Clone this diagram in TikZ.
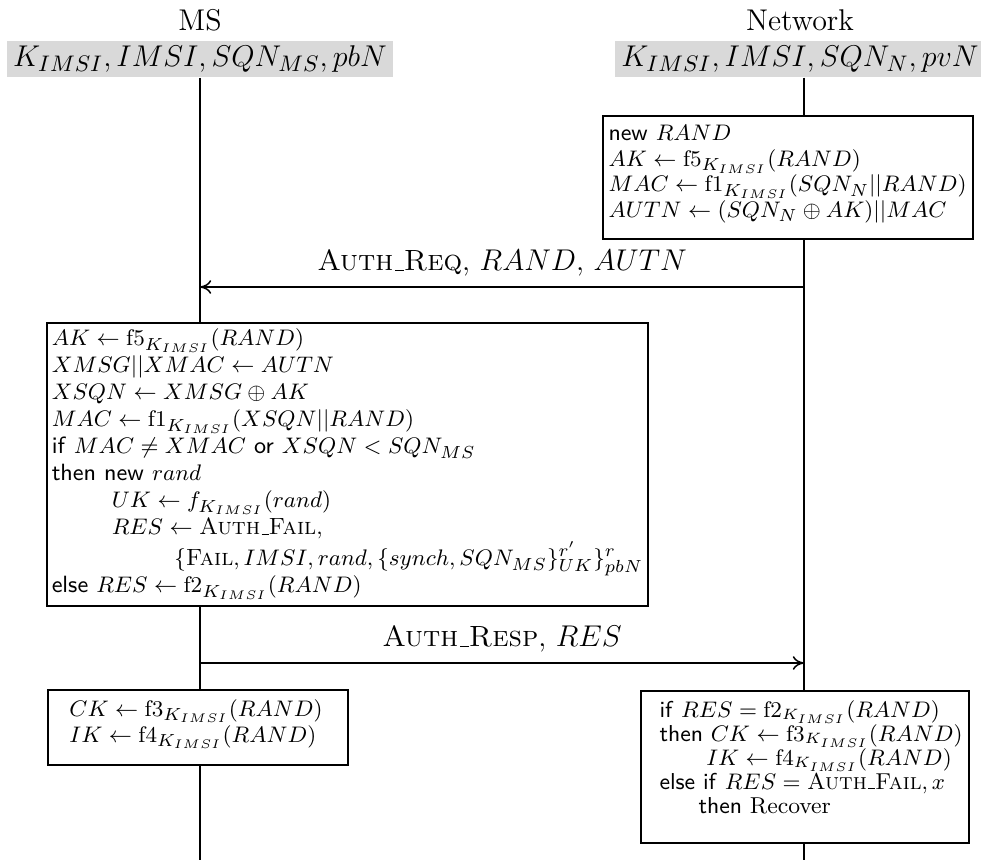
\documentclass[tikz,border=0pt]{standalone}
\usepackage{amsmath}
\usetikzlibrary{arrows.meta}
\newcommand\uscore{\leavevmode\kern.06em\vbox{\hrule width.3em}}
\begin{document}
\begin{tikzpicture}[x=0.4pt,y=-0.4pt,
  lbl/.style={font=\fontsize{12}{14}\selectfont, inner sep=0pt},
  hdr/.style={fill=black!15, font=\fontsize{13}{15}\selectfont, inner xsep=2.5pt, inner ysep=2pt},
  life/.style={line width=0.6pt},
  box/.style={draw, line width=0.6pt, fill=white, inner sep=0pt},
  boxtext/.style={font={\fontsize{9.3}{10.2}\selectfont}, align=left, inner sep=0pt},
  msg/.style={line width=0.6pt, -{To[length=4.5pt,width=5.5pt]}},
  msglbl/.style={font=\fontsize{11.7}{14}\selectfont, above, inner sep=4pt}
]
\useasboundingbox (0,0) rectangle (981,860);
% headers
\node[lbl] (msl) at (200,20) {MS};
\node[lbl] (nwl) at (800,20) {Network};
\node[hdr] (msh) at (200,59) {$K_{IMSI},IMSI,SQN_{MS},pbN$};
\node[hdr] (nwh) at (800,59) {$K_{IMSI},IMSI,SQN_{N},pvN$};
\coordinate (msend) at (200,860);
\coordinate (nwend) at (804,860);
\draw[life] (msh.south) -- (msend);
\draw[life] (nwh.south -| nwend) -- (nwend);
% network box 1
\node[box, anchor=north west, minimum width=148pt, minimum height=49.2pt] (nb1) at (602,115) {};
\node[boxtext, anchor=north west] (nb1t) at (608,125) {%
\textsf{new} $RAND$\\
$AK \leftarrow \mathrm{f5}_{K_{IMSI}}(RAND)$\\
$MAC \leftarrow \mathrm{f1}_{K_{IMSI}}(SQN_N||RAND)$\\
$AUTN \leftarrow (SQN_N \oplus AK)||MAC$};
% message 1
\coordinate (a1s) at (804,287);
\coordinate (a1e) at (200,287);
\draw[msg] (a1s) -- node[msglbl] (a1l) {\textsc{Auth\uscore Req}, $RAND$,\ $AUTN$} (a1e);
% MS box 1
\node[box, boxtext, font={\fontsize{9.4}{10.8}\selectfont}, anchor=north west, inner xsep=2pt, minimum height=113.2pt] (mb1) at (46,322) {%
$AK \leftarrow \mathrm{f5}_{K_{IMSI}}(RAND)$\\
$XMSG||XMAC \leftarrow AUTN$\\
$XSQN \leftarrow XMSG \oplus AK$\\
$MAC \leftarrow \mathrm{f1}_{K_{IMSI}}(XSQN||RAND)$\\
\textsf{if} $MAC \neq XMAC$ \textsf{or} $XSQN < SQN_{MS}$\\
\textsf{then new} $rand$\\
\hspace*{24pt}$UK \leftarrow f_{K_{IMSI}}(rand)$\\
\hspace*{24pt}$RES \leftarrow \textsc{Auth\uscore Fail},$\\
\hspace*{49pt}$\{\textsc{Fail}, IMSI, rand, \{synch, SQN_{MS}\}^{r'}_{UK}\}^{r}_{pbN}$\\
\textsf{else} $RES \leftarrow \mathrm{f2}_{K_{IMSI}}(RAND)$};
% message 2
\coordinate (a2s) at (200,663);
\coordinate (a2e) at (804,663);
\draw[msg] (a2s) -- node[msglbl] (a2l) {\textsc{Auth\uscore Resp}, $RES$} (a2e);
% MS box 2
\node[box, minimum width=120pt, minimum height=30pt] (mb2) at (198,727.5) {};
\node[boxtext, font={\fontsize{9.4}{9.4}\selectfont}] (mb2t) at (196,724) {%
$CK \leftarrow \mathrm{f3}_{K_{IMSI}}(RAND)$\\
$IK \leftarrow \mathrm{f4}_{K_{IMSI}}(RAND)$};
% network box 3
\node[box, anchor=north west, minimum width=131.2pt, minimum height=60.8pt] (nb3) at (640,690) {};
\node[boxtext, font={\fontsize{9.2}{9.6}\selectfont}, anchor=north west] (nb3t) at (659,700) {%
\textsf{if} $RES = \mathrm{f2}_{K_{IMSI}}(RAND)$\\
\textsf{then} $CK \leftarrow \mathrm{f3}_{K_{IMSI}}(RAND)$\\
\hspace*{18.7pt}$IK \leftarrow \mathrm{f4}_{K_{IMSI}}(RAND)$\\
\textsf{else if} $RES = \textsc{Auth\uscore Fail}, x$\\
\hspace*{15.6pt}\textsf{then} Recover};
\end{tikzpicture}
\end{document}
